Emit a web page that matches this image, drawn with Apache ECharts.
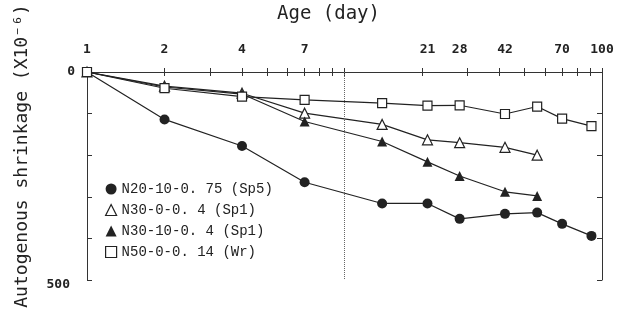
<!DOCTYPE html>
<html>
<head>
<meta charset="utf-8">
<script src="https://cdn.jsdelivr.net/npm/echarts@6/dist/echarts.min.js"></script>
<style>
  html, body { margin: 0; padding: 0; background: #fff; }
  #main { width: 622px; height: 311px; }
</style>
</head>
<body>
<div id="main"></div>
<script>
// 龄期 (day)
let days = [1, 2, 4, 7, 14, 21, 28, 42, 56, 70, 91]
let ageLabels = [1, 2, 4, 7, 21, 28, 42, 70, 100]
let minorTicks = [1, 2, 3, 4, 5, 6, 7, 8, 9, 10, 20, 30, 40, 50, 60, 70, 80, 90, 100]

// 各配合的自收缩 (x10^-6)
let sp5 = [0, 114, 178, 265, 316, 316, 353, 341, 338, 365, 394]
let sp1a = [0, 34, 51, 99, 126, 163, 170, 181, 200]
let sp1b = [0, 36, 53, 119, 167, 216, 250, 288, 298]
let wr = [0, 39, 59, 67, 75, 81, 80, 101, 83, 112, 130]

let names = ['N20-10-0. 75 (Sp5)', 'N30-0-0. 4 (Sp1)', 'N30-10-0. 4 (Sp1)', 'N50-0-0. 14 (Wr)']

function pairs(vals){
    return vals.map((v, i) => [days[i], v])
}

let chart = echarts.init(document.getElementById('main'))

let lineStyle = { color: '#222', width: 1.2 }
let fullSym = { color: '#222' }
let emptySym = { color: '#fff', borderColor: '#222', borderWidth: 1.2 }

let xTick = {
    inside: true,
    length: 4,
    customValues: minorTicks,
    lineStyle: { color: '#333' }
}

let yLabelFont = { fontFamily: 'DejaVu Sans Mono', fontSize: 13, fontWeight: 'bold', color: '#222' }

option = {
    animation: false,
    grid: { left: 87, right: 20, top: 72, bottom: 31 },
    legend: {
        orient: 'vertical',
        left: 100,
        top: 177,
        itemGap: 7,
        itemWidth: 11,
        itemHeight: 11,
        textStyle: { fontFamily: 'Liberation Mono', fontSize: 14, color: '#222' },
        data: [
            { name: names[0], icon: 'circle' },
            { name: names[1], icon: 'triangle', itemStyle: emptySym },
            { name: names[2], icon: 'triangle' },
            { name: names[3], icon: 'rect', itemStyle: emptySym }
        ]
    },
    graphic: [
        {
            type: 'text', left: 277, top: 5,
            style: { text: 'Age (day)', font: '19px "DejaVu Sans Mono"', fill: '#222' }
        },
        {
            type: 'text', x: 22, y: 156, rotation: Math.PI / 2,
            style: {
                text: 'Autogenous shrinkage (X10⁻⁶)', font: '18px "DejaVu Sans Mono"', fill: '#222',
                align: 'center', verticalAlign: 'middle'
            }
        }
    ],
    xAxis: [
        {
            type: 'log', logBase: 10, min: 1, max: 100, position: 'top',
            axisLine: { lineStyle: { color: '#333' } },
            axisTick: xTick,
            minorTick: { show: false },
            splitLine: { show: false },
            axisLabel: {
                customValues: ageLabels,
                margin: 16,
                fontFamily: 'DejaVu Sans Mono', fontSize: 13, fontWeight: 'bold', color: '#222'
            }
        },
        {
            type: 'log', logBase: 10, min: 1, max: 100, position: 'bottom',
            axisLine: { lineStyle: { color: '#333' } },
            axisTick: xTick,
            splitLine: { show: false },
            axisLabel: { show: false }
        }
    ],
    yAxis: [
        {
            type: 'value', inverse: true, min: 0, max: 500, interval: 100,
            axisLine: { show: true, lineStyle: { color: '#333' } },
            axisTick: { show: true, inside: true, length: 5, lineStyle: { color: '#333' } },
            splitLine: { show: false },
            axisLabel: {
                margin: 12,
                formatter: v => v === 0 ? '{a|0}' : (v === 500 ? '{b|500}' : ''),
                rich: {
                    a: yLabelFont,
                    b: Object.assign({ padding: [10, 5, 0, 0] }, yLabelFont)
                }
            }
        },
        {
            type: 'value', inverse: true, min: 0, max: 500, interval: 100, position: 'right',
            axisLine: { show: true, lineStyle: { color: '#333' } },
            axisTick: { show: true, inside: true, length: 5, lineStyle: { color: '#333' } },
            splitLine: { show: false },
            axisLabel: { show: false }
        }
    ],
    series: [
        {
            name: names[0], type: 'line', data: pairs(sp5),
            symbol: 'circle', symbolSize: 10, itemStyle: fullSym, lineStyle: lineStyle,
            markLine: {
                silent: true, symbol: 'none', label: { show: false },
                lineStyle: { type: 'dotted', color: '#666', width: 1 },
                data: [{ xAxis: 10 }]
            }
        },
        {
            name: names[1], type: 'line', data: pairs(sp1a),
            symbol: 'triangle', symbolSize: 10, itemStyle: emptySym, lineStyle: lineStyle
        },
        {
            name: names[2], type: 'line', data: pairs(sp1b),
            symbol: 'triangle', symbolSize: 10, itemStyle: fullSym, lineStyle: lineStyle
        },
        {
            name: names[3], type: 'line', data: pairs(wr),
            symbol: 'rect', symbolSize: 9, itemStyle: emptySym, lineStyle: lineStyle
        }
    ]
}

chart.setOption(option)
</script>
</body>
</html>
